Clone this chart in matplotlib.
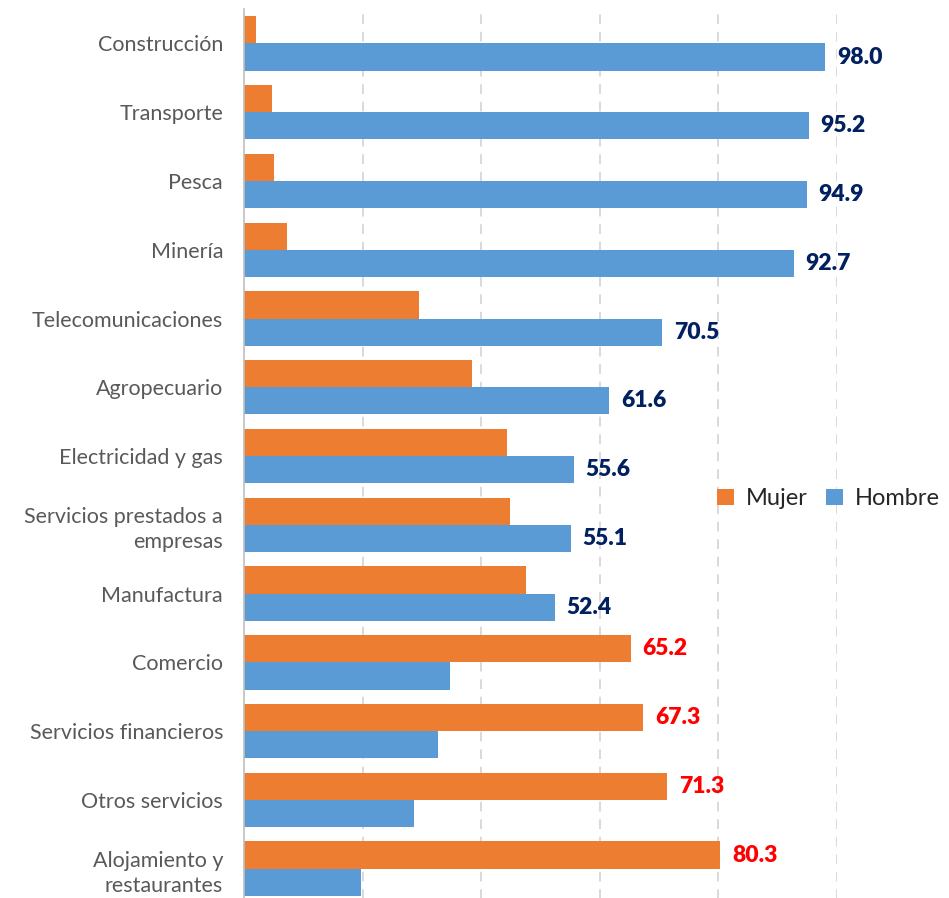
import matplotlib.pyplot as plt
import numpy as np

# Sector shares by sex (%), top to bottom as in the chart
sectores = [
    "Construcción", "Transporte", "Pesca", "Minería", "Telecomunicaciones",
    "Agropecuario", "Electricidad y gas", "Servicios prestados a\nempresas",
    "Manufactura", "Comercio", "Servicios financieros", "Otros servicios",
    "Alojamiento y\nrestaurantes",
]
hombre = [98.0, 95.2, 94.9, 92.7, 70.5, 61.6, 55.6, 55.1, 52.4, 34.8, 32.7, 28.7, 19.7]
mujer = [2.0, 4.8, 5.1, 7.3, 29.5, 38.4, 44.4, 44.9, 47.6, 65.2, 67.3, 71.3, 80.3]

ORANGE = "#ED7D31"
BLUE = "#5B9BD5"
NAVY = "#002060"
RED = "#FF0000"

plt.rcParams["font.family"] = ["Lato", "DejaVu Sans"]

fig = plt.figure(figsize=(9.49, 8.98), dpi=100)
ax = fig.add_axes([0.257, -0.0056, 0.625, 0.9955])

y = np.arange(len(sectores))
h = 0.395
ax.barh(y - h / 2, mujer, height=h, color=ORANGE, label="Mujer", zorder=3)
ax.barh(y + h / 2, hombre, height=h, color=BLUE, label="Hombre", zorder=3)

# label only the larger share in each sector
for i, (m, v) in enumerate(zip(mujer, hombre)):
    if v > m:
        ax.text(v + 2, i + h / 2, f"{v:.1f}", va="center", ha="left",
                fontsize=16.5, fontweight="heavy", color=NAVY, clip_on=False)
    else:
        ax.text(m + 2, i - h / 2, f"{m:.1f}", va="center", ha="left",
                fontsize=16.5, fontweight="heavy", color=RED, clip_on=False)

ax.set_xlim(0, 100)
ax.set_ylim(len(sectores) - 0.5, -0.5)
ax.set_yticks(y)
ax.set_yticklabels(sectores, fontsize=15.5, color="#595959", linespacing=1.35)
ax.tick_params(axis="y", length=0, pad=15)
ax.set_xticks([20, 40, 60, 80, 100])
ax.tick_params(axis="x", length=0, labelbottom=False)
ax.grid(axis="x", color="#D9D9D9", linestyle=(0, (5, 4)), linewidth=1.4, zorder=0)

for s in ["top", "right", "bottom"]:
    ax.spines[s].set_visible(False)
ax.spines["left"].set_color("#BFBFBF")
ax.spines["left"].set_linewidth(1.2)
ax.spines["left"].set_zorder(4)

ax.legend(loc="center left", bbox_to_anchor=(0.762, 0.452), ncol=2, frameon=False,
          fontsize=17, handlelength=0.7, handleheight=0.7, handletextpad=0.5,
          columnspacing=0.8, labelcolor="#262626")

fig.savefig("out.png", dpi=100)
